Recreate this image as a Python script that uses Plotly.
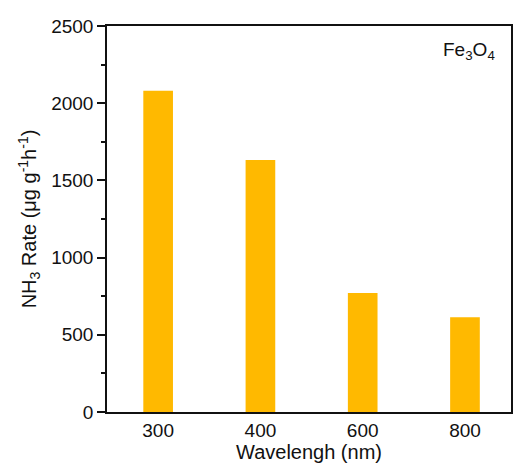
import plotly.graph_objects as go

categories = ["300", "400", "600", "800"]
values = [2080, 1632, 771, 614]
y_ticks = [0, 500, 1000, 1500, 2000, 2500]

fig = go.Figure()
fig.add_trace(go.Bar(x=list(range(len(categories))), y=values, width=0.29,
                     marker=dict(color="#FFB900", line=dict(width=0))))

font = dict(family="Liberation Sans, Arial", size=20, color="#111")
tickfont = dict(family="Liberation Sans, Arial", size=19, color="#111")
fig.update_layout(
    width=515, height=468,
    margin=dict(l=107, r=2, t=26, b=56),
    plot_bgcolor="white", paper_bgcolor="white",
    showlegend=False, font=font,
    xaxis=dict(range=[-0.5, 3.45], tickvals=list(range(len(categories))), ticktext=categories,
               showline=True, linecolor="#111", linewidth=2, mirror=True,
               ticks="", showgrid=False, zeroline=False,
               title=dict(text="Wavelengh (nm)", standoff=4, font=font), tickfont=tickfont),
    yaxis=dict(range=[0, 2500], tickvals=y_ticks, showline=True, linecolor="#111",
               linewidth=1.5, mirror=True, ticks="outside", ticklen=8, tickwidth=1.5,
               tickcolor="#111", showgrid=False, zeroline=False,
               minor=dict(tickvals=[250, 750, 1250, 1750, 2250], ticks="outside", ticklen=4,
                          tickwidth=1.5, tickcolor="#111"),
               title=dict(text="NH<sub>3</sub> Rate (μg g<sup>-1</sup>h<sup>-1</sup>)", standoff=9,
                          font=font),
               tickfont=tickfont),
)
fig.add_annotation(text="Fe<sub>3</sub>O<sub>4</sub>", xref="paper", yref="paper",
                   x=0.965, y=0.972, xanchor="right", yanchor="top", showarrow=False,
                   font=dict(family="Liberation Sans, Arial", size=19, color="#111"))
fig.write_html("out.html")
